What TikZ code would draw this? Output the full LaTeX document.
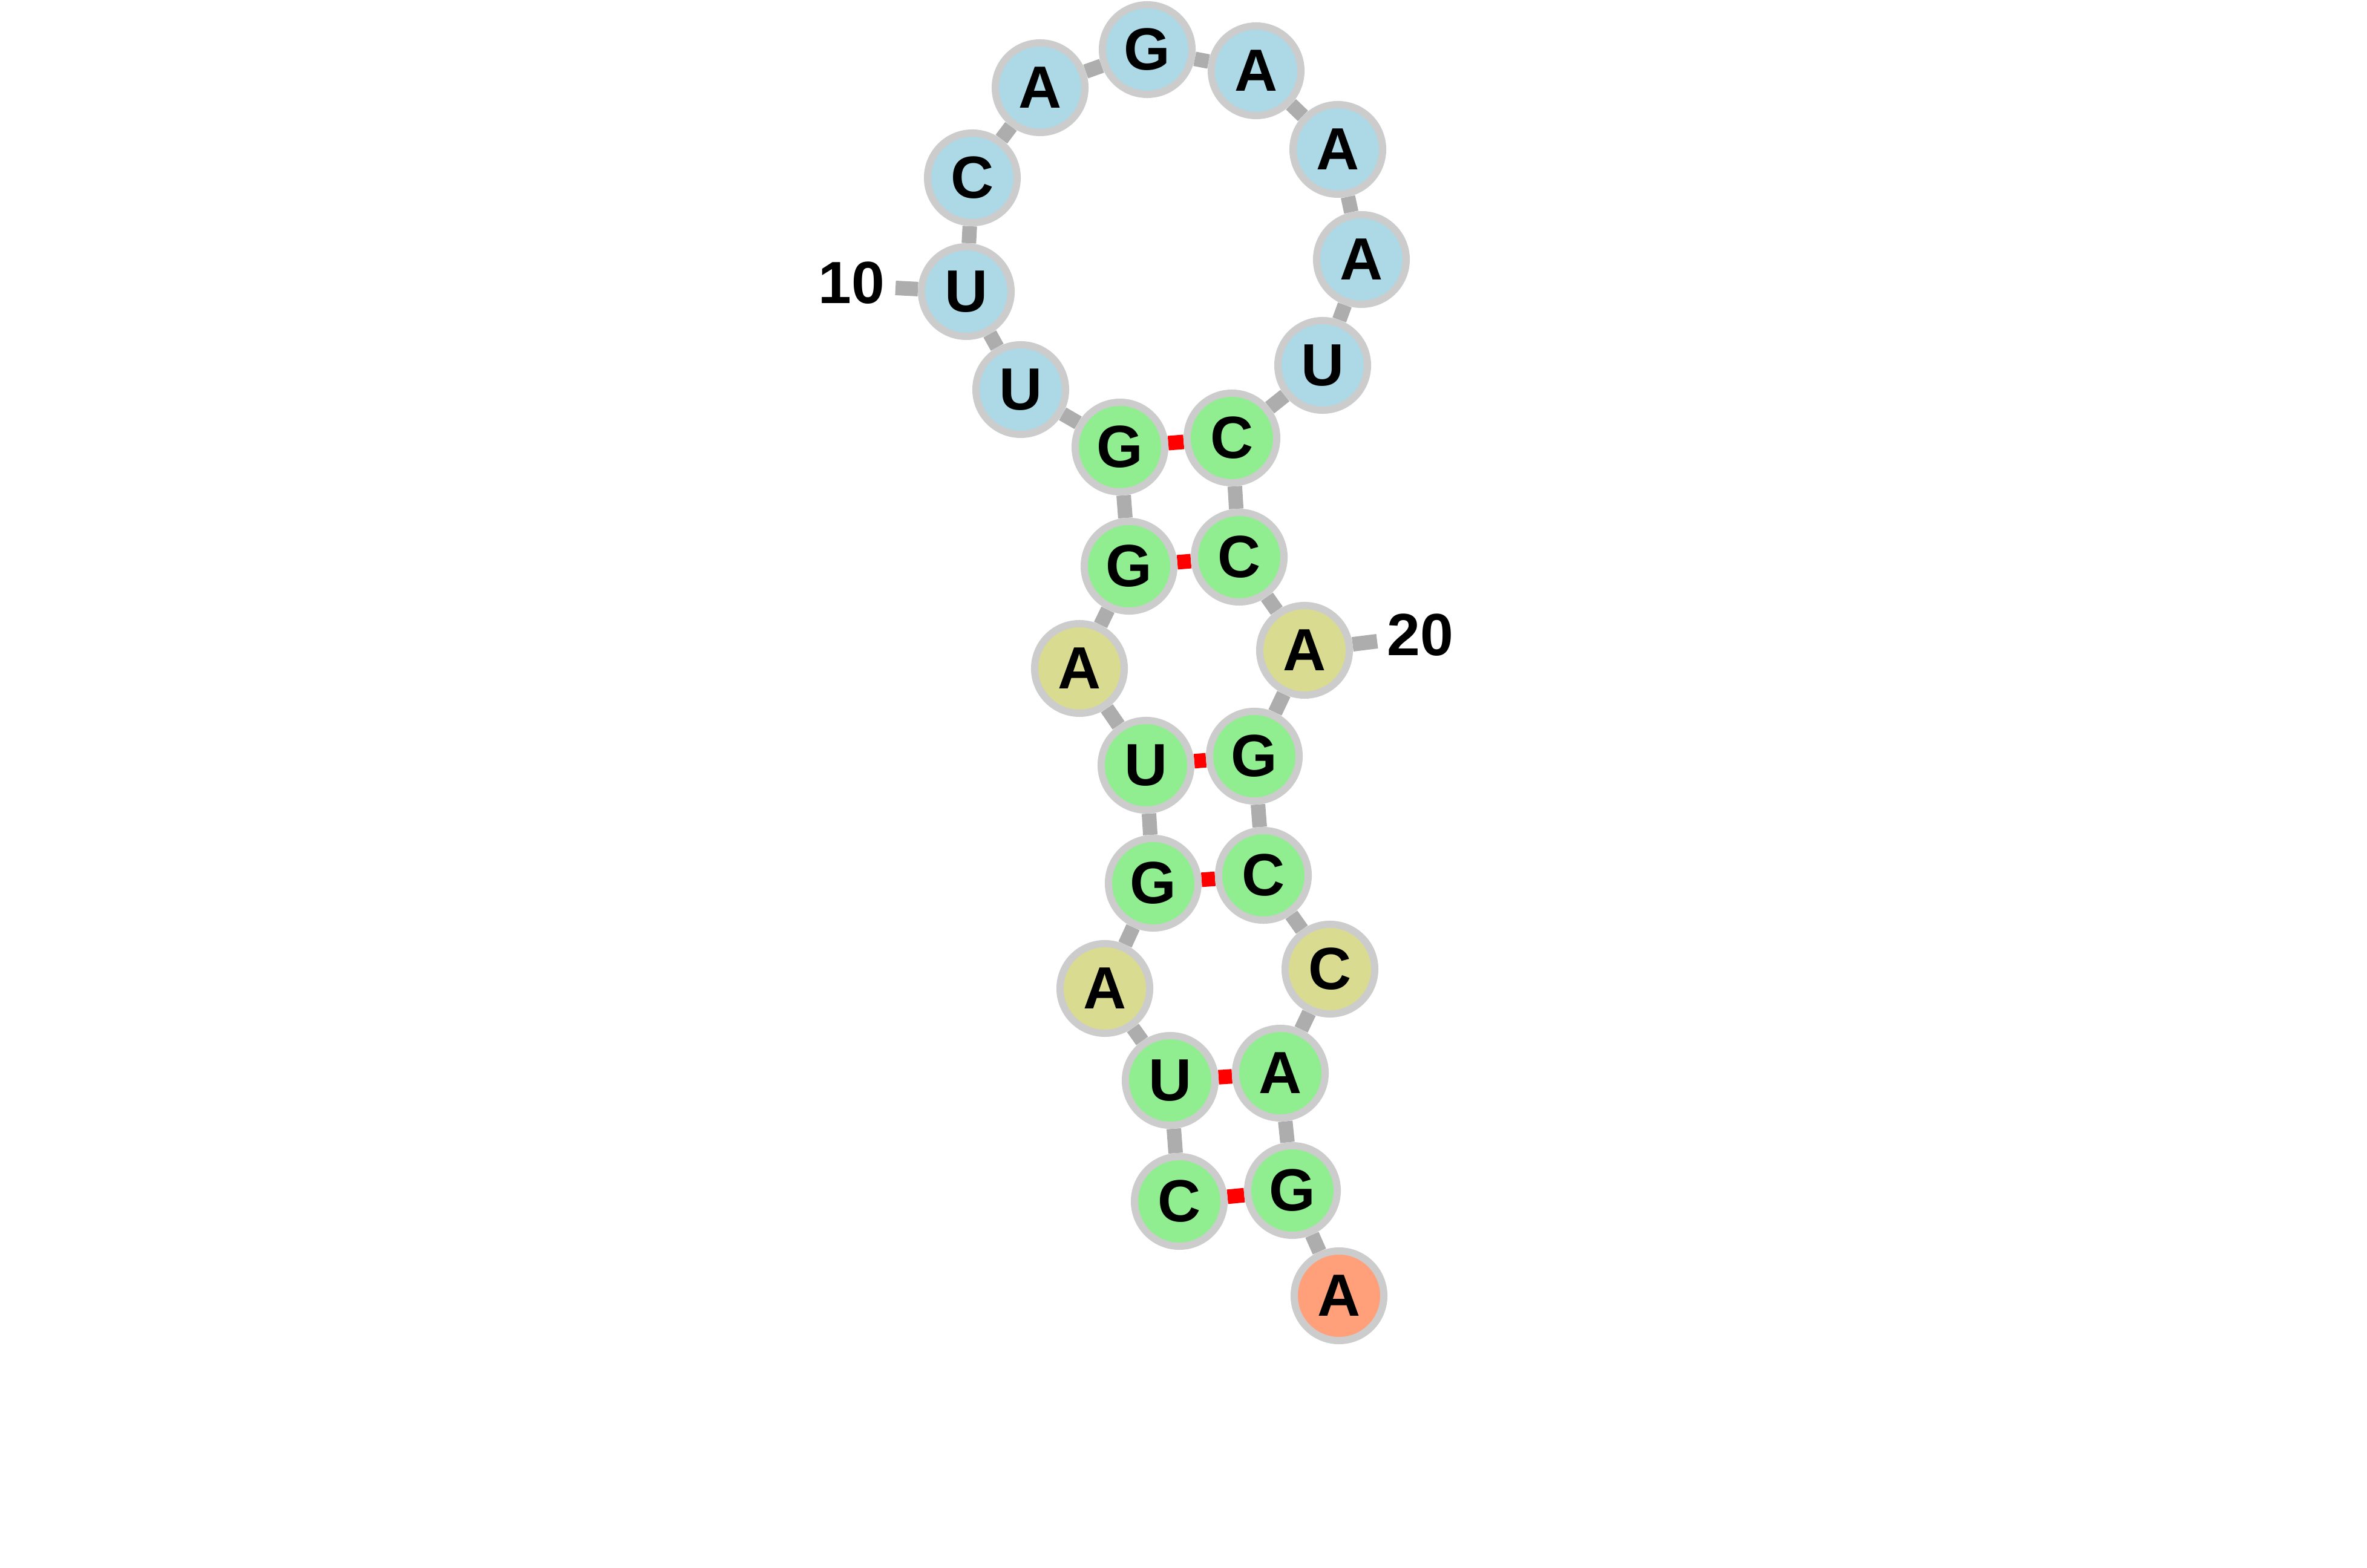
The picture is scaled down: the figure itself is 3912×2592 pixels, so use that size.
\documentclass[tikz,border=0pt]{standalone}
\usepackage{fontspec}
\setmainfont{Liberation Sans}
\usetikzlibrary{backgrounds}
\definecolor{stemgreen}{HTML}{90EE90}
\definecolor{loopblue}{HTML}{ADD8E6}
\definecolor{bulgekhaki}{HTML}{D9DB90}
\definecolor{tailsalmon}{HTML}{FFA07A}
\definecolor{ringgray}{HTML}{CCCCCC}
\definecolor{chaingray}{HTML}{ADADAD}
\tikzset{
  base/.style = {circle, draw = ringgray, line width = 0.12cm, minimum size = 1.48cm, inner sep = 0pt, font = \fontsize{28}{28}\selectfont\bfseries},
  chain/.style = {draw = chaingray, line width = 0.24cm},
  pair/.style = {draw = red, line width = 0.24cm},
  numlabel/.style = {font = \fontsize{28}{28}\selectfont\bfseries}
}

\begin{document}
\begin{tikzpicture}[x = 0.01cm, y = -0.01cm]
    \useasboundingbox (0,0) rectangle (3912,2592);
	\foreach \i/\b/\x/\y/\c in {1/C/1949/1986/stemgreen, 2/U/1934/1786/stemgreen, 3/A/1826/1634/bulgekhaki,
	  4/G/1906/1460/stemgreen, 5/U/1894/1265/stemgreen, 6/A/1784/1105/bulgekhaki, 7/G/1866/936/stemgreen,
	  8/G/1851/739/stemgreen, 9/U/1687/644/loopblue, 10/U/1597/482/loopblue, 11/C/1607/294/loopblue,
	  12/A/1719/145/loopblue, 13/G/1896/82/loopblue, 14/A/2076/117/loopblue, 15/A/2211/247/loopblue,
	  16/A/2250/429/loopblue, 17/U/2186/604/loopblue, 18/C/2036/724/stemgreen, 19/C/2048/921/stemgreen,
	  20/A/2156/1075/bulgekhaki, 21/G/2073/1250/stemgreen, 22/C/2088/1447/stemgreen, 23/C/2198/1602/bulgekhaki,
	  24/A/2116/1774/stemgreen, 25/G/2136/1968/stemgreen, 26/A/2213/2142/tailsalmon}
	\node [base, fill = \c] (n\i) at (\x,\y) {\b};
	% position numbers
	\coordinate (t10) at (1480,476);
	\coordinate (t20) at (2276,1060);
	\node [numlabel] (l10) at (1407,468) {10};
	\node [numlabel] (l20) at (2347,1050) {20};
	\begin{scope}[on background layer]
	\foreach \i [count = \j from 2] in {1,...,25}
	\draw [chain] (n\i) -- (n\j);
	\draw [chain] (n10) -- (t10);
	\draw [chain] (n20) -- (t20);
	\foreach \a/\b in {1/25, 2/24, 4/22, 5/21, 7/19, 8/18}
	\draw [pair] (n\a) -- (n\b);
	\end{scope}
\end{tikzpicture}
\end{document}
